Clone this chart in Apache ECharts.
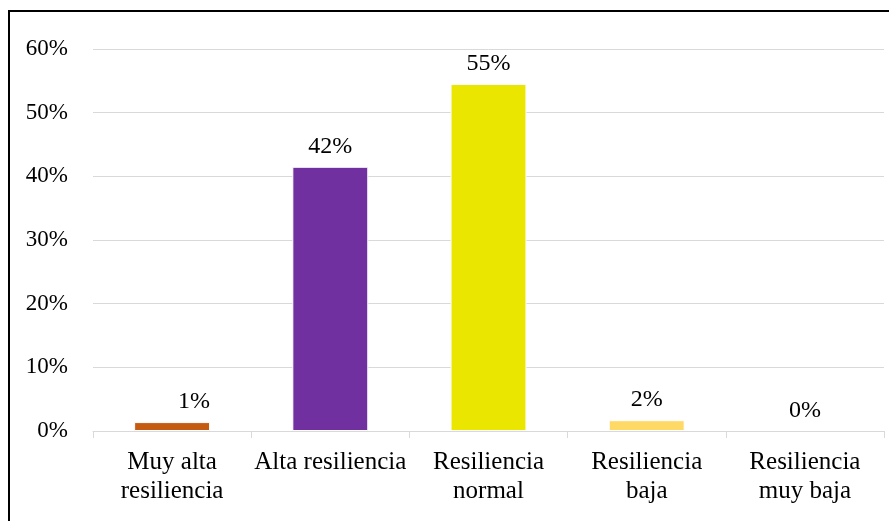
<!DOCTYPE html>
<html>
<head>
<meta charset="utf-8">
<script src="https://cdn.jsdelivr.net/npm/echarts@6/dist/echarts.min.js"></script>
<style>
  html, body { margin: 0; padding: 0; background: #fff; overflow: hidden; }
  #main { width: 889px; height: 521px; }
  #frame {
    position: absolute; left: 8px; top: 10px; width: 1000px; height: 700px;
    border: 2px solid #000; pointer-events: none; box-sizing: border-box;
  }
</style>
</head>
<body>
<div id="main"></div>
<div id="frame"></div>
<script>
var categories = ['Muy alta\nresiliencia', 'Alta resiliencia', 'Resiliencia\nnormal', 'Resiliencia\nbaja', 'Resiliencia\nmuy baja'];
var values = [1.4, 41.5, 54.5, 1.7, 0];
var colors = ['#C55A11', '#7030A0', '#EAE600', '#FFD966', '#A5A5A5'];

var font = '"Liberation Serif", "Times New Roman", serif';

var myChart = echarts.init(document.getElementById('main'));

var option = {
  animation: false,
  grid: { left: 93, right: 5, top: 49, bottom: 90 },
  xAxis: {
    type: 'category',
    data: categories,
    axisLine: { lineStyle: { color: '#D9D9D9', width: 1 } },
    axisTick: { show: true, length: 7, lineStyle: { color: '#D9D9D9' } },
    axisLabel: {
      color: '#000', fontFamily: font, fontSize: 25, lineHeight: 29,
      margin: 17, interval: 0
    }
  },
  yAxis: {
    type: 'value',
    min: 0, max: 60, interval: 10,
    axisLine: { show: false },
    axisTick: { show: false },
    splitLine: { lineStyle: { color: '#D9D9D9', width: 1 } },
    axisLabel: {
      color: '#000', fontFamily: font, fontSize: 23, margin: 25,
      formatter: '{value}%'
    }
  },
  series: [{
    type: 'bar',
    barWidth: '48%',
    data: values.map(function (v, i) {
      var d = {
        value: v,
        itemStyle: { color: colors[i], borderColor: '#fff', borderWidth: v > 0 ? 1 : 0 }
      };
      // etiqueta del primer valor desplazada a la derecha
      if (i === 0) d.label = { offset: [22, 0] };
      return d;
    }),
    label: {
      show: true, position: 'top', distance: 8,
      color: '#000', fontFamily: font, fontSize: 24,
      formatter: function (p) { return Math.round(p.value) + '%'; }
    }
  }]
};

myChart.setOption(option);
</script>
</body>
</html>
